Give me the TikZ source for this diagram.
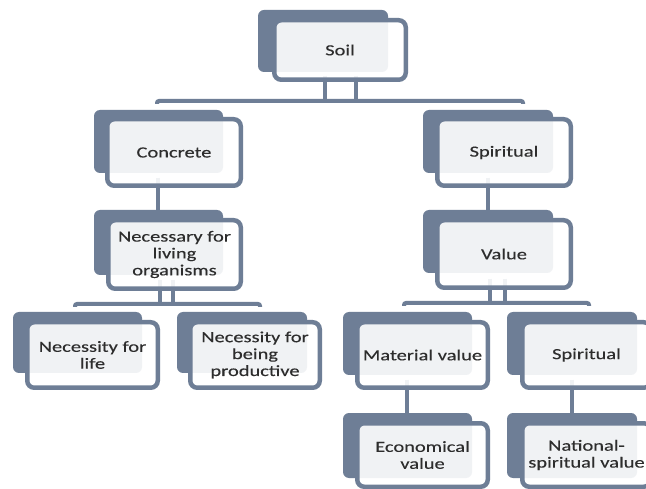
\documentclass[tikz,border=0pt]{standalone}
\usepackage{fontspec}
\setmainfont[FakeStretch=1.32,FakeBold=0.25]{Carlito}
\usetikzlibrary{backgrounds}
\definecolor{slate}{RGB}{110,126,150}
\definecolor{txt}{RGB}{45,45,45}
\begin{document}
\begin{tikzpicture}[x=1pt,y=-1pt,
  backbox/.style={fill=slate, rounded corners=6pt},
  frontbox/.style={draw=slate, line width=4.5pt, fill=white, fill opacity=0.9,
    draw opacity=1, text opacity=1, rounded corners=7pt, inner sep=0pt,
    align=center, font=\fontsize{15.5}{16.9}\selectfont, text=txt},
  conn/.style={draw=slate, line width=4pt},
  barline/.style={draw=slate, line width=4pt, rounded corners=2pt}]
\useasboundingbox (0,0) rectangle (646,489);

% Soil
\path[backbox] (258,10) rectangle (388,72);
\node[frontbox, minimum width=131.5pt, minimum height=59.5pt] (soil) at (340,50) {Soil};
% Concrete
\path[backbox] (94,110) rectangle (223,173);
\node[frontbox, minimum width=133.5pt, minimum height=66.5pt] (concrete) at (174,152.5) {Concrete};
% Spiritual
\path[backbox] (423,110) rectangle (553,173);
\node[frontbox, minimum width=133.5pt, minimum height=66.5pt] (spirit) at (504,152.5) {Spiritual};
% Necessary
\path[backbox] (94,210) rectangle (223,275);
\node[frontbox, minimum width=132.5pt, minimum height=68.5pt] (necess) at (174.5,254.5) {Necessary for\\living\\organisms};
% Value
\path[backbox] (423,210) rectangle (553,273);
\node[frontbox, minimum width=133.5pt, minimum height=67.5pt] (value) at (504,254) {Value};
% Necessity for life
\path[backbox] (13,312) rectangle (142,373);
\node[frontbox, minimum width=130.5pt, minimum height=65.5pt] (life) at (92.5,355) {Necessity for\\life};
% Necessity for being productive
\path[backbox] (177,312) rectangle (307,373);
\node[frontbox, minimum width=129.5pt, minimum height=65.5pt] (prod) at (255,355) {Necessity for\\being\\productive};
% Material value
\path[backbox] (343,312) rectangle (472,375);
\node[frontbox, minimum width=130.5pt, minimum height=65.5pt] (material) at (422.5,355) {Material value};
% Spiritual 2
\path[backbox] (507,312) rectangle (637,375);
\node[frontbox, minimum width=128.5pt, minimum height=65.5pt] (spirit2) at (586.5,355) {Spiritual};
% Economical value
\path[backbox] (343,413) rectangle (472,478);
\node[frontbox, minimum width=130.5pt, minimum height=63.5pt] (econ) at (422.5,455) {Economical\\value};
% National-spiritual value
\path[backbox] (507,413) rectangle (637,478);
\node[frontbox, minimum width=128.5pt, minimum height=63.5pt] (national) at (586.5,455) {National-\\spiritual value};

\coordinate (bar1L) at (157,101);
\coordinate (bar1R) at (523,101);
\coordinate (bar2L) at (75,304);
\coordinate (bar2R) at (260,304);
\coordinate (bar3L) at (404,303);
\coordinate (bar3R) at (589,303);

\begin{pgfonlayer}{background}
  \fill[white] (0,0) rectangle (646,489);
  % bars
  \draw[barline] ([yshift=-3pt]bar1L) -- (bar1L) -- (bar1R) -- ([yshift=-3pt]bar1R);
  \draw[barline] ([yshift=-3pt]bar2L) -- (bar2L) -- (bar2R) -- ([yshift=-3pt]bar2R);
  \draw[barline] ([yshift=-3pt]bar3L) -- (bar3L) -- (bar3R) -- ([yshift=-3pt]bar3R);
  % Soil to bar
  \draw[conn] ([xshift=-15pt,yshift=6pt]soil.south) -- ([xshift=-15pt]soil.south |- bar1L);
  \draw[conn] ([xshift=16pt,yshift=6pt]soil.south) -- ([xshift=16pt]soil.south |- bar1L);
  % Concrete to Necessary
  \draw[conn] ([xshift=-16pt,yshift=10pt]concrete.south) -- ([xshift=-16pt]concrete.south |- necess.north);
  % Spiritual to Value
  \draw[conn] ([xshift=-16pt,yshift=10pt]spirit.south) -- ([xshift=-16pt]spirit.south |- value.north);
  % Necessary to bar2
  \draw[conn] ([xshift=-14.5pt,yshift=11pt]necess.south) -- ([xshift=-14.5pt]necess.south |- bar2L);
  \draw[conn] ([xshift=-1.5pt,yshift=11pt]necess.south) -- ([xshift=-1.5pt]necess.south |- bar2L);
  % Value to bar3
  \draw[conn] ([xshift=-14pt,yshift=11pt]value.south) -- ([xshift=-14pt]value.south |- bar3L);
  \draw[conn] ([xshift=1pt,yshift=11pt]value.south) -- ([xshift=1pt]value.south |- bar3L);
  % Material to Economical
  \draw[conn] ([xshift=-15.5pt,yshift=10pt]material.south) -- ([xshift=-15.5pt]material.south |- econ.north);
  % Spiritual2 to National
  \draw[conn] ([xshift=-14.5pt,yshift=10pt]spirit2.south) -- ([xshift=-14.5pt]spirit2.south |- national.north);
\end{pgfonlayer}
\end{tikzpicture}
\end{document}
